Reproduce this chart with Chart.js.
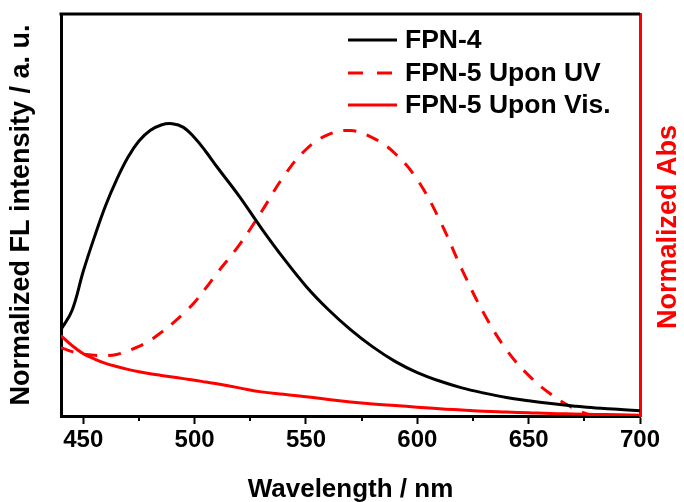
<!DOCTYPE html>
<html>
<head>
<meta charset="utf-8">
<script src="https://cdn.jsdelivr.net/npm/chart.js@4/dist/chart.umd.min.js"></script>
<style>
  html, body { margin: 0; padding: 0; background: #fff; }
</style>
</head>
<body>
<canvas id="flChart" width="684" height="502"></canvas>
<script>
// wavelength grid (nm) and normalized curves
const wavelengths = [440, 445, 450, 455, 460, 465, 470, 475, 480, 485, 490, 495, 500, 505,
  510, 520, 530, 540, 550, 560, 570, 580, 590, 600, 610, 620, 630, 640, 650, 660, 670, 680, 690, 700];
const fpn4 = [21.5, 26.3, 36.0, 44.5, 52.3, 58.8, 64.3, 68.4, 71.0, 72.4, 72.7, 71.8, 69.2, 65.8,
  62.0, 54.7, 46.7, 39.2, 32.3, 26.5, 21.5, 17.2, 13.6, 10.8, 8.7, 7.0, 5.7, 4.6, 3.8, 3.1, 2.5, 2.0, 1.7, 1.3];
const fpn5UV = [17.0, 16.0, 15.4, 15.1, 15.0, 15.3, 16.2, 17.3, 18.8, 20.8, 23.0, 25.5, 28.3, 31.8,
  35.5, 42.5, 50.8, 59.6, 66.3, 70.0, 71.0, 69.2, 65.3, 58.8, 48.8, 36.5, 25.4, 16.5, 10.1, 5.4, 2.0, 0, 0, 0];
const fpn5Vis = [20.0, 17.5, 15.5, 14.2, 13.1, 12.3, 11.6, 11.0, 10.5, 10.1, 9.7, 9.3, 8.9, 8.45,
  8.0, 7.0, 6.0, 5.4, 4.8, 4.1, 3.5, 3.0, 2.6, 2.2, 1.8, 1.5, 1.2, 1.0, 0.8, 0.6, 0.5, 0.4, 0.3, 0.2];

const seriesLabels = ["FPN-4", "FPN-5 Upon UV", "FPN-5 Upon Vis."];
const xTickValues = [450, 500, 550, 600, 650, 700];
const xMinorTicks = [475, 525, 575, 625, 675];

const FONT = "'Liberation Sans', Arial, sans-serif";
Chart.defaults.font.family = FONT;
Chart.defaults.color = "#000";

function toPoints(ys) {
  return wavelengths.map((w, i) => ({ x: w, y: ys[i] }));
}

// minor ticks, top frame, right axis title and the inset legend
const decorPlugin = {
  id: "decor",
  afterDraw(chart) {
    const ctx = chart.ctx;
    const area = chart.chartArea;
    const xs = chart.scales.x;
    ctx.save();

    ctx.strokeStyle = "#000";
    ctx.lineWidth = 2;
    xMinorTicks.forEach(v => {
      const px = Math.round(xs.getPixelForValue(v));
      ctx.beginPath();
      ctx.moveTo(px, area.bottom);
      ctx.lineTo(px, area.bottom + 5);
      ctx.stroke();
    });

    ctx.lineWidth = 3;
    ctx.beginPath();
    ctx.moveTo(area.left - 1.5, area.top);
    ctx.lineTo(area.right, area.top);
    ctx.stroke();

    // right title reads bottom-to-top
    ctx.save();
    ctx.translate(669, 227);
    ctx.rotate(-Math.PI / 2);
    ctx.fillStyle = "#ff0000";
    ctx.font = "bold 27px " + FONT;
    ctx.textAlign = "center";
    ctx.textBaseline = "middle";
    ctx.fillText("Normalized Abs", 0, 0);
    ctx.restore();

    // legend
    const rows = [40, 73, 105];
    ctx.font = "bold 26.5px " + FONT;
    ctx.textAlign = "left";
    ctx.textBaseline = "middle";
    chart.data.datasets.forEach((ds, i) => {
      ctx.strokeStyle = ds.borderColor;
      ctx.lineWidth = ds.borderWidth;
      ctx.setLineDash(ds.borderDash ? [15, 14] : []);
      ctx.beginPath();
      ctx.moveTo(348, rows[i]);
      ctx.lineTo(397, rows[i]);
      ctx.stroke();
      ctx.setLineDash([]);
      ctx.fillStyle = "#000";
      ctx.fillText(ds.label, 405, rows[i] + 1);
    });
    ctx.restore();
  }
};

const ctx = document.getElementById("flChart").getContext("2d");
new Chart(ctx, {
  type: "line",
  data: {
    datasets: [
      {
        label: seriesLabels[0],
        data: toPoints(fpn4),
        borderColor: "#000000",
        borderWidth: 3,
        pointRadius: 0,
        tension: 0.4,
        fill: false,
      },
      {
        label: seriesLabels[1],
        data: toPoints(fpn5UV),
        borderColor: "#ff0000",
        borderWidth: 3,
        borderDash: [13, 11],
        pointRadius: 0,
        tension: 0.4,
        fill: false,
      },
      {
        label: seriesLabels[2],
        data: toPoints(fpn5Vis),
        borderColor: "#ff0000",
        borderWidth: 3,
        pointRadius: 0,
        tension: 0.4,
        fill: false,
      },
    ],
  },
  options: {
    responsive: false,
    animation: false,
    layout: { padding: { top: 14, left: 0, right: 0, bottom: 0 } },
    plugins: {
      legend: { display: false },
      tooltip: { enabled: false },
    },
    scales: {
      x: {
        type: "linear",
        min: 440,
        max: 700,
        afterBuildTicks: (scale) => {
          scale.ticks = xTickValues.map(v => ({ value: v }));
        },
        afterFit: (scale) => { scale.height = 86; },
        ticks: {
          font: { size: 24, weight: "bold" },
          padding: 2,
          maxRotation: 0,
          autoSkip: false,
        },
        grid: {
          display: true,
          drawOnChartArea: false,
          drawTicks: true,
          tickLength: 8,
          tickWidth: 2,
          tickColor: "#000",
        },
        border: { color: "#000", width: 3 },
        title: {
          display: true,
          text: "Wavelength / nm",
          font: { size: 26, weight: "bold", lineHeight: 1 },
          padding: { top: 0, bottom: -1 },
        },
      },
      y: {
        position: "left",
        min: 0,
        max: 100,
        afterFit: (scale) => { scale.width = 61; },
        ticks: { display: false },
        grid: { display: false },
        border: { color: "#000", width: 3 },
        title: {
          display: true,
          text: "Normalized FL intensity / a. u.",
          font: { size: 27, weight: "bold", lineHeight: 1 },
          padding: { top: 8, bottom: 0 },
        },
      },
      y2: {
        position: "right",
        min: 0,
        max: 100,
        afterFit: (scale) => { scale.width = 44; },
        ticks: { display: false },
        grid: { display: false },
        border: { color: "#ff0000", width: 3 },
      },
    },
  },
  plugins: [decorPlugin],
});
</script>
</body>
</html>
